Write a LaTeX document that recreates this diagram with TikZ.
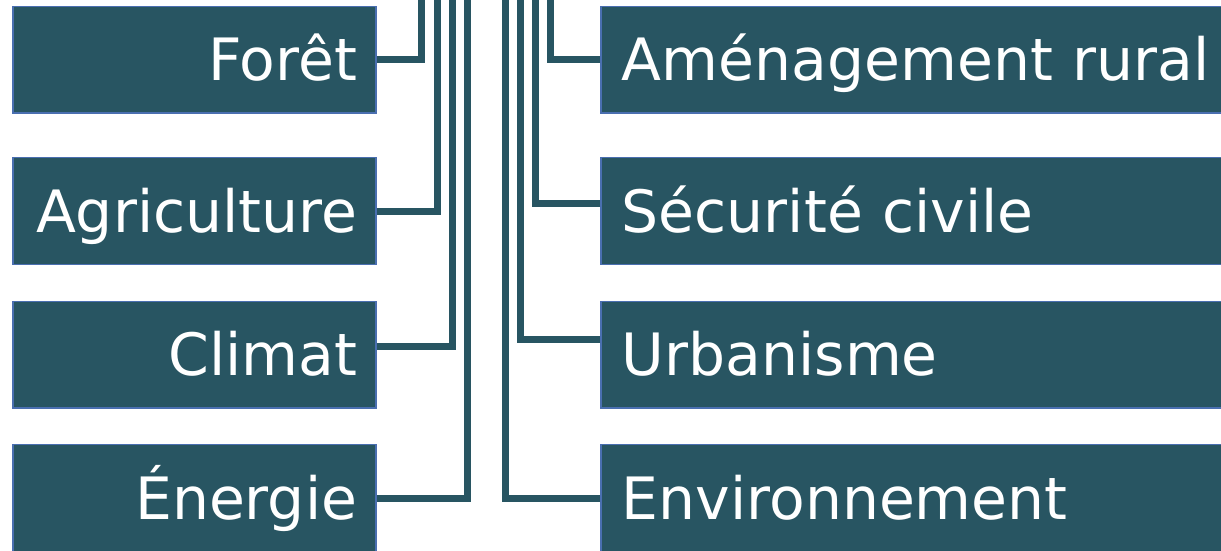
\documentclass[tikz,border=0pt]{standalone}
\usepackage{fontspec}
\setmainfont{DejaVu Sans}
\definecolor{fondbleu}{HTML}{285562}
\definecolor{bordbleu}{HTML}{4A6FB0}

\begin{document}
\begin{tikzpicture}[x=0.01cm,y=-0.01cm]
		\tikzstyle{every node}+=[inner ysep=0pt]
		\tikzstyle{secteur}=[draw=bordbleu, line width=0.4pt, fill=fondbleu, text=white, minimum height=1.065cm, font=\fontsize{16.6}{20}\selectfont, text height=12.1pt, text depth=0pt]
		\tikzstyle{gauche}=[secteur, inner xsep=0.19cm, text width=3.25cm, align=right]
		\tikzstyle{droite}=[secteur, inner xsep=0.21cm, text width=5.97cm, align=left]
		\tikzstyle{lien}=[fondbleu, line width=0.07cm]
		\useasboundingbox (0,0) rectangle (1221,550);
		\clip (0,0) rectangle (1221,550);
		\node [gauche] (foret) at (194.5,59.5) {Forêt};
		\node [gauche] (agri) at (194.5,211) {Agriculture};
		\node [gauche] (climat) at (194.5,354.5) {Climat};
		\node [gauche] (energie) at (194.5,498) {Énergie};
		\node [droite] (amenag) at (920.5,59.5) {Aménagement rural};
		\node [droite] (secu) at (920.5,211) {Sécurité civile};
		\node [droite] (urba) at (920.5,354.5) {Urbanisme};
		\node [droite] (envir) at (920.5,498) {Environnement};
		\coordinate (hForet) at (421.5,-10);
		\coordinate (hAgri) at (437,-10);
		\coordinate (hClimat) at (452,-10);
		\coordinate (hEnergie) at (467,-10);
		\coordinate (hEnvir) at (505,-10);
		\coordinate (hUrba) at (520,-10);
		\coordinate (hSecu) at (535,-10);
		\coordinate (hAmenag) at (550,-10);
		\draw [lien] (foret.east) -| (hForet);
		\draw [lien] (agri.east) -| (hAgri);
		\draw [lien] (climat.east |- 0,346.7) -| (hClimat);
		\draw [lien] (energie.east) -| (hEnergie);
		\draw [lien] (amenag.west) -| (hAmenag);
		\draw [lien] (secu.west |- 0,203.3) -| (hSecu);
		\draw [lien] (urba.west |- 0,339) -| (hUrba);
		\draw [lien] (envir.west) -| (hEnvir);
	\end{tikzpicture}
\end{document}
